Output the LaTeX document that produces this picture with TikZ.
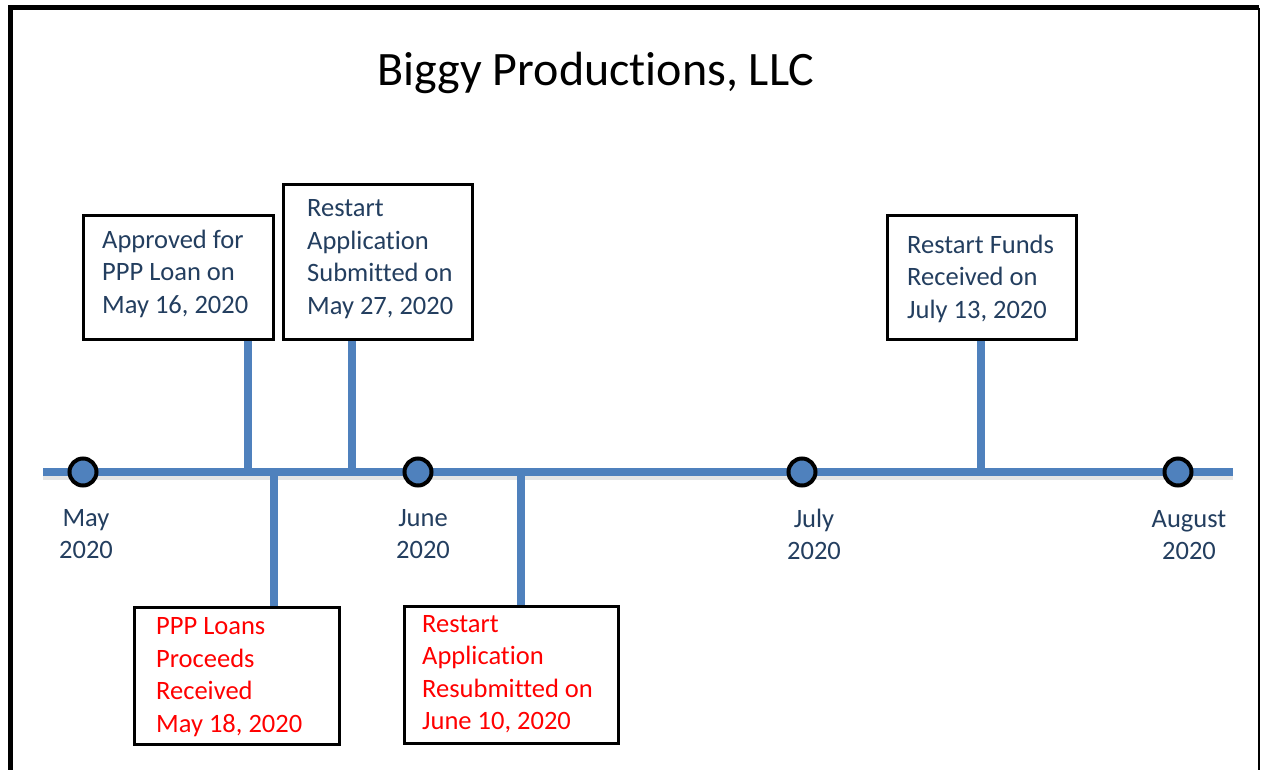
\documentclass[tikz,border=0pt]{standalone}
\usepackage{fontspec}
\setmainfont{Carlito}[Ligatures=NoCommon]
\definecolor{tlblue}{RGB}{79,129,189}
\definecolor{txtblue}{RGB}{35,62,95}
\definecolor{txtred}{RGB}{255,0,0}
\begin{document}
\begin{tikzpicture}[x=1pt,y=-1pt,
  evbox/.style={draw=black, line width=3, fill=white, inner sep=0, anchor=north west},
  evtext/.style={anchor=west, align=left, inner sep=0, font=\fontsize{26.5}{32.5}\selectfont},
  monthlbl/.style={align=center, inner sep=0, text=txtblue, font=\fontsize{26.5}{32}\selectfont},
  stem/.style={draw=tlblue, line width=8},
  dot/.style={circle, draw=black, line width=4, fill=tlblue, minimum size=27, inner sep=0}]
\useasboundingbox (0,0) rectangle (1262,769);
\fill[white] (0,0) rectangle (1262,769);
% frame
\draw[line width=5] (10,800) -- (10,7.5) -- (1259,7.5);
\draw[line width=2] (1259,7.5) -- (1259,800);
% title
\node[inner sep=0, font=\fontsize{48}{56}\selectfont] (title) at (596,73) {Biggy Productions, LLC};
% timeline
\coordinate (tlS) at (43,472);
\coordinate (tlE) at (1233,472);
\draw[line width=8, black!10] ([yshift=-4]tlS) -- ([yshift=-4]tlE);
\draw[stem] (tlS) -- (tlE);
% stem anchor points
\coordinate (s1) at (248,472);
\coordinate (s2) at (352,472);
\coordinate (s3) at (981,472);
\coordinate (s4) at (274,472);
\coordinate (s5) at (521,472);
% boxes
\node[evbox, minimum width=190, minimum height=124] (b1) at (82,214) {};
\node[evtext, text=txtblue] (t1) at ([xshift=20,yshift=4]b1.west) {Approved for\\PPP Loan on\\May 16, 2020};
\node[evbox, minimum width=189, minimum height=155] (b2) at (282,183) {};
\node[evtext, text=txtblue] (t2) at ([xshift=25,yshift=3]b2.west) {Restart\\Application\\Submitted on\\May 27, 2020};
\node[evbox, minimum width=189, minimum height=124] (b3) at (886,214) {};
\node[evtext, text=txtblue] (t3) at ([xshift=21,yshift=-1]b3.west) {Restart Funds\\Received on\\July 13, 2020};
\node[evbox, minimum width=205, minimum height=137] (b4) at (133,606) {};
\node[evtext, text=txtred] (t4) at ([xshift=23,yshift=-1]b4.west) {PPP Loans\\Proceeds\\Received\\May 18, 2020};
\node[evbox, minimum width=214, minimum height=137] (b5) at (403,605) {};
\node[evtext, text=txtred] (t5) at ([xshift=19,yshift=1]b5.west) {Restart\\Application\\Resubmitted on\\June 10, 2020};
% stems
\draw[stem] (s1 |- b1.south) -- (s1);
\draw[stem] (s2 |- b2.south) -- (s2);
\draw[stem] (s3 |- b3.south) -- (s3);
\draw[stem] (s4) -- (s4 |- b4.north);
\draw[stem] (s5) -- (s5 |- b5.north);
% month dots
\node[dot] (m1) at (83,472) {};
\node[dot] (m2) at (418,472) {};
\node[dot] (m3) at (802,472) {};
\node[dot] (m4) at (1178,472) {};
% month labels
\node[monthlbl] (l1) at (86,534) {May\\2020};
\node[monthlbl] (l2) at (423,534) {June\\2020};
\node[monthlbl] (l3) at (814,534) {July\\2020};
\node[monthlbl] (l4) at (1189,535) {August\\2020};
\end{tikzpicture}
\end{document}
